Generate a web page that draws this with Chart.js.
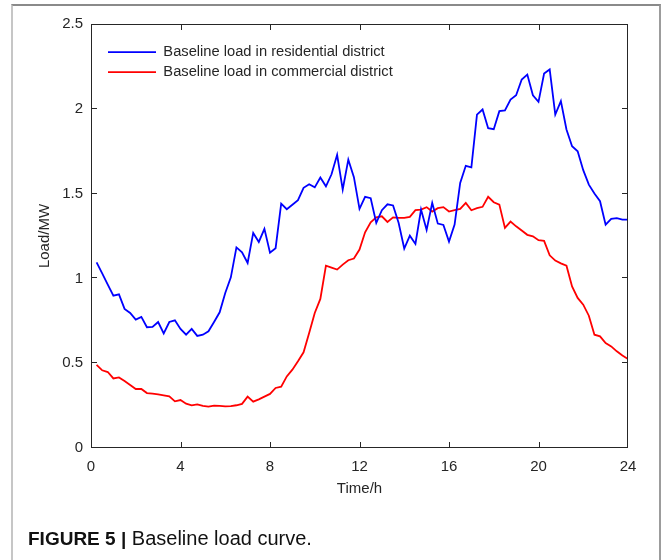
<!DOCTYPE html>
<html>
<head>
<meta charset="utf-8">
<script src="https://cdn.jsdelivr.net/npm/chart.js@4.4.1/dist/chart.umd.min.js"></script>
<style>
  html, body { margin: 0; padding: 0; background: #fff; }
  #wrap { position: relative; width: 664px; height: 560px; overflow: hidden; }
  #frame {
    position: absolute; left: 11px; top: 4px; width: 646px; height: 600px;
    border-top: 2px solid #8a8a8a; border-left: 2px solid #c6c6c6; border-right: 2px solid #9c9c9c;
  }
  #myChart { position: absolute; left: 0; top: 0; }
  #caption {
    position: absolute; left: 28px; top: 527px; font: 20px/22px "Liberation Sans", Arial, sans-serif;
    color: #111; white-space: nowrap;
  }
  #caption b { font-weight: bold; font-size: 19px; }
</style>
</head>
<body>
<div id="wrap">
  <div id="frame"></div>
  <canvas id="myChart" width="664" height="560"></canvas>
  <div id="caption"><b>FIGURE 5 |</b> Baseline load curve.</div>
</div>
<script>
const hours = [0.25, 0.5, 0.75, 1, 1.25, 1.5, 1.75, 2, 2.25, 2.5, 2.75, 3, 3.25, 3.5, 3.75, 4,
  4.25, 4.5, 4.75, 5, 5.25, 5.5, 5.75, 6, 6.25, 6.5, 6.75, 7, 7.25, 7.5, 7.75, 8,
  8.25, 8.5, 8.75, 9, 9.25, 9.5, 9.75, 10, 10.25, 10.5, 10.75, 11, 11.25, 11.5, 11.75, 12,
  12.25, 12.5, 12.75, 13, 13.25, 13.5, 13.75, 14, 14.25, 14.5, 14.75, 15, 15.25, 15.5, 15.75, 16,
  16.25, 16.5, 16.75, 17, 17.25, 17.5, 17.75, 18, 18.25, 18.5, 18.75, 19, 19.25, 19.5, 19.75, 20,
  20.25, 20.5, 20.75, 21, 21.25, 21.5, 21.75, 22, 22.25, 22.5, 22.75, 23, 23.25, 23.5, 23.75, 24]

const residential = [1.095, 1.03, 0.963, 0.898, 0.906, 0.82, 0.796, 0.757, 0.773, 0.712, 0.714, 0.743, 0.676, 0.743, 0.753, 0.702,
  0.668, 0.702, 0.661, 0.668, 0.688, 0.743, 0.80, 0.914, 1.006, 1.183, 1.154, 1.091, 1.268, 1.215, 1.292, 1.152,
  1.178, 1.441, 1.408, 1.434, 1.461, 1.534, 1.555, 1.537, 1.595, 1.543, 1.614, 1.729, 1.524, 1.70, 1.597, 1.41,
  1.481, 1.473, 1.327, 1.402, 1.437, 1.43, 1.327, 1.176, 1.252, 1.203, 1.406, 1.286, 1.445, 1.323, 1.315, 1.217,
  1.317, 1.563, 1.664, 1.655, 1.966, 1.996, 1.886, 1.88, 1.986, 1.99, 2.055, 2.08, 2.173, 2.202, 2.08, 2.041,
  2.208, 2.232, 1.966, 2.045, 1.878, 1.779, 1.75, 1.638, 1.553, 1.5, 1.455, 1.317, 1.351, 1.355, 1.347, 1.347]

const commercial = [0.49, 0.458, 0.448, 0.41, 0.416, 0.395, 0.372, 0.348, 0.348, 0.324, 0.32, 0.316, 0.31, 0.304, 0.275, 0.283,
  0.261, 0.251, 0.257, 0.248, 0.244, 0.25, 0.248, 0.246, 0.247, 0.252, 0.26, 0.303, 0.273, 0.287, 0.303, 0.319,
  0.354, 0.362, 0.422, 0.462, 0.511, 0.564, 0.678, 0.796, 0.879, 1.075, 1.064, 1.052, 1.081, 1.107, 1.117, 1.17,
  1.272, 1.331, 1.36, 1.366, 1.333, 1.36, 1.357, 1.357, 1.363, 1.402, 1.406, 1.42, 1.394, 1.414, 1.42, 1.394,
  1.402, 1.41, 1.445, 1.402, 1.414, 1.422, 1.481, 1.449, 1.435, 1.298, 1.335, 1.307, 1.282, 1.257, 1.248, 1.225,
  1.221, 1.136, 1.105, 1.089, 1.075, 0.953, 0.885, 0.845, 0.78, 0.668, 0.658, 0.619, 0.599, 0.57, 0.545, 0.525]

const xTicks = [0, 4, 8, 12, 16, 20, 24]
const yTicks = [0, 0.5, 1, 1.5, 2, 2.5]

const textColor = '#262626'
const fontFamily = '"Liberation Sans", Arial, sans-serif'

// matlab style box with inward ticks on all four sides
const axesBox = {
  id: 'axesBox',
  afterDatasetsDraw(chart) {
    const { ctx, chartArea: a, scales: { x, y } } = chart
    ctx.save()
    ctx.strokeStyle = textColor
    ctx.lineWidth = 1
    ctx.strokeRect(a.left + 0.5, a.top + 0.5, a.right - a.left - 1, a.bottom - a.top - 1)
    ctx.beginPath()
    x.ticks.slice(1, -1).forEach((t) => {
      const px = Math.round(x.getPixelForValue(t.value)) + 0.5
      ctx.moveTo(px, a.bottom); ctx.lineTo(px, a.bottom - 6)
      ctx.moveTo(px, a.top); ctx.lineTo(px, a.top + 6)
    })
    y.ticks.slice(1, -1).forEach((t) => {
      const py = Math.round(y.getPixelForValue(t.value)) - 0.5
      ctx.moveTo(a.left, py); ctx.lineTo(a.left + 6, py)
      ctx.moveTo(a.right, py); ctx.lineTo(a.right - 6, py)
    })
    ctx.stroke()
    ctx.restore()
  }
}

// a legend in the chart area starts at its very corner, so push it in a bit
const legendNudge = {
  id: 'legendNudge',
  afterLayout(chart) {
    const lg = chart.legend
    lg.left = chart.chartArea.left + 11.7
    lg.top = chart.chartArea.top + 15.4
    lg.bottom = chart.chartArea.bottom
  }
}

const config = {
  type: 'line',
  data: {
    labels: hours,
    datasets: [{
      label: 'Baseline load in residential district',
      data: residential,
      borderColor: '#0000ff',
      backgroundColor: '#0000ff',
      borderWidth: 1.8,
      pointRadius: 0,
      tension: 0
    }, {
      label: 'Baseline load in commercial district',
      data: commercial,
      borderColor: '#ff0000',
      backgroundColor: '#ff0000',
      borderWidth: 1.8,
      pointRadius: 0,
      tension: 0
    }]
  },
  options: {
    responsive: false,
    animation: false,
    devicePixelRatio: 1,
    layout: { padding: { left: 0, top: 24, right: 36, bottom: 0 } },
    scales: {
      x: {
        type: 'linear',
        min: 0,
        max: 24,
        afterBuildTicks: (scale) => { scale.ticks = xTicks.map((v) => ({ value: v })) },
        afterFit: (scale) => { scale.height = 112 },
        grid: { display: false, drawTicks: false },
        border: { display: false },
        ticks: {
          color: textColor,
          padding: 10,
          maxRotation: 0,
          font: { family: fontFamily, size: 15 },
          callback: (v) => String(v)
        },
        title: {
          display: true,
          text: 'Time/h',
          color: textColor,
          font: { family: fontFamily, size: 15 },
          padding: { top: 0, bottom: 62 }
        }
      },
      y: {
        min: 0,
        max: 2.5,
        afterBuildTicks: (scale) => { scale.ticks = yTicks.map((v) => ({ value: v })) },
        afterFit: (scale) => { scale.width = 91 },
        grid: { display: false, drawTicks: false },
        border: { display: false },
        ticks: {
          color: textColor,
          padding: 8,
          font: { family: fontFamily, size: 15 },
          callback: (v) => String(v)
        },
        title: {
          display: true,
          text: 'Load/MW',
          color: textColor,
          font: { family: fontFamily, size: 15 },
          padding: { top: 36, bottom: 0 }
        }
      }
    },
    plugins: {
      legend: {
        position: 'chartArea',
        align: 'start',
        onClick: null,
        labels: {
          usePointStyle: true,
          pointStyle: 'line',
          pointStyleWidth: 48,
          padding: 5.3,
          color: textColor,
          font: { family: fontFamily, size: 14.7 }
        }
      },
      tooltip: { enabled: false }
    }
  },
  plugins: [axesBox, legendNudge]
}

const myChart = new Chart(document.getElementById('myChart'), config)
</script>
</body>
</html>
